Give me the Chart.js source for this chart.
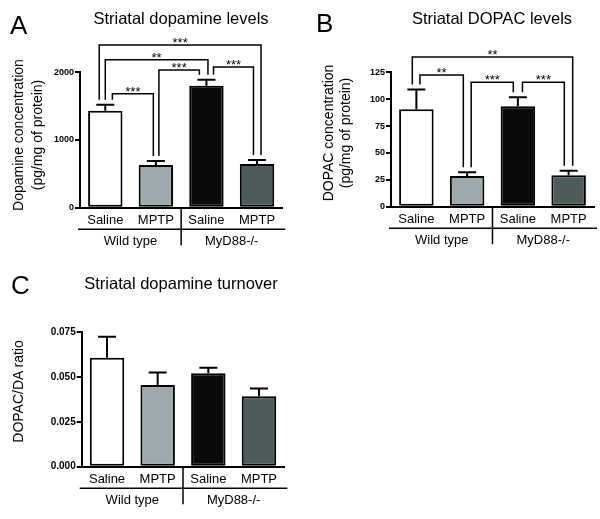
<!DOCTYPE html>
<html>
<head>
<meta charset="utf-8">
<script src="https://cdn.jsdelivr.net/npm/chart.js@4.4.1/dist/chart.umd.min.js"></script>
<style>
  body { margin: 0; background: #fff; }
  #wrap { position: relative; width: 600px; height: 519px; overflow: hidden;
          font-family: "Liberation Sans", Arial, sans-serif; color: #000; }
  canvas { position: absolute; }
  .letter { position: absolute; font-size: 26px; line-height: 26px; }
  .title { position: absolute; width: 300px; text-align: center; font-size: 16.5px; line-height: 16.5px; white-space: nowrap; }
  .ytitle { position: absolute; width: 200px; text-align: center; font-size: 14px; transform: rotate(-90deg); white-space: nowrap; }
</style>
</head>
<body>
<div id="wrap">
  <canvas id="chartA" width="300" height="260" style="left:0;top:0"></canvas>
  <canvas id="chartB" width="300" height="260" style="left:300px;top:0"></canvas>
  <canvas id="chartC" width="300" height="259" style="left:0;top:260px"></canvas>

  <div class="letter" style="left:10px;top:11.5px">A</div>
  <div class="letter" style="left:316px;top:10px">B</div>
  <div class="letter" style="left:11px;top:272px">C</div>

  <div class="title" style="left:31px;top:10px">Striatal dopamine levels</div>
  <div class="title" style="left:342px;top:10px">Striatal DOPAC levels</div>
  <div class="title" style="left:31px;top:275px">Striatal dopamine turnover</div>

  <div class="ytitle" style="left:-72.5px;top:116px;height:38px;line-height:19px">Dopamine concentration<br>(pg/mg of protein)</div>
  <div class="ytitle" style="left:236.5px;top:116px;height:34px;line-height:17px">DOPAC concentration<br>(pg/mg of protein)</div>
  <div class="ytitle" style="left:-82.5px;top:382.5px;height:17px;line-height:17px">DOPAC/DA ratio</div>
</div>
<script>
const FONT = '"Liberation Sans", Arial, sans-serif';
Chart.defaults.font.family = FONT;
Chart.defaults.color = '#000';

// categories and groups
const categories = ['Saline', 'MPTP', 'Saline', 'MPTP'];
const groups = ['Wild type', 'MyD88-/-'];
const barColors = ['#ffffff', '#9ea9ae', '#0b0b0b', '#4e5b5b'];

// A: striatal dopamine (pg/mg protein), mean and SEM
const dopamineMean = [1433, 630, 1802, 645];
const dopamineSem = [88, 59, 89, 60];
const dopamineTicks = [0, 1000, 2000];

// B: striatal DOPAC (pg/mg protein)
const dopacMean = [90.6, 28.5, 93.4, 29.2];
const dopacSem = [18.4, 3.5, 8.3, 4.3];
const dopacTicks = [0, 25, 50, 75, 100, 125];

// C: DOPAC/DA ratio
const turnoverMean = [0.0608, 0.0456, 0.0521, 0.0393];
const turnoverSem = [0.0117, 0.0069, 0.0031, 0.0044];
const turnoverTicks = [0, 0.025, 0.05, 0.075];

// significance comparisons [from, to, label]
const dopamineStats = [[0, 1, '***'], [1, 2, '***'], [2, 3, '***'], [0, 2, '**'], [0, 3, '***']];
const dopacStats = [[0, 1, '**'], [1, 2, '***'], [2, 3, '***'], [0, 3, '**']];

// bracket placement: height in axis units, leg shift in category widths
const dopamineBrackets = [
  { level: 1684, dx: [0.14, -0.05] },
  { level: 2034, dx: [0.06, -0.14] },
  { level: 2078, dx: [0.14, -0.07] },
  { level: 2186, dx: [0.0, 0.03] },
  { level: 2403, dx: [-0.12, 0.08] }
];
const dopacBrackets = [
  { level: 122.5, dx: [0.07, -0.075] },
  { level: 115.7, dx: [0.08, -0.09] },
  { level: 115.7, dx: [0.09, -0.085] },
  { level: 139.2, dx: [-0.08, 0.08] }
];

// upward-only error bars with caps
const errorBars = {
  id: 'errorBars',
  afterDatasetsDraw(chart, args, opts) {
    const { ctx } = chart;
    const y = chart.scales.y;
    const mean = chart.data.datasets[0].data;
    ctx.save();
    ctx.strokeStyle = '#000';
    ctx.lineWidth = 2;
    chart.getDatasetMeta(0).data.forEach((bar, i) => {
      const top = y.getPixelForValue(mean[i] + opts.sem[i]);
      ctx.beginPath();
      ctx.moveTo(bar.x, bar.y);
      ctx.lineTo(bar.x, top);
      ctx.moveTo(bar.x - 9, top);
      ctx.lineTo(bar.x + 9, top);
      ctx.stroke();
    });
    ctx.restore();
  }
};

// significance brackets
const brackets = {
  id: 'brackets',
  afterDraw(chart, args, opts) {
    if (!opts.stats) return;
    const { ctx } = chart;
    const x = chart.scales.x, y = chart.scales.y;
    const mean = chart.data.datasets[0].data;
    const step = x.getPixelForValue(1) - x.getPixelForValue(0);
    const legEnd = i => y.getPixelForValue(mean[i] + opts.sem[i]) - 5;
    ctx.save();
    ctx.strokeStyle = '#000';
    ctx.fillStyle = '#000';
    ctx.lineWidth = 1.5;
    ctx.font = '13px ' + FONT;
    ctx.textAlign = 'center';
    ctx.textBaseline = 'alphabetic';
    opts.stats.forEach(([a, b, label], k) => {
      const lay = opts.layout[k];
      const xa = x.getPixelForValue(a) + lay.dx[0] * step;
      const xb = x.getPixelForValue(b) + lay.dx[1] * step;
      const yl = y.getPixelForValue(lay.level);
      ctx.beginPath();
      ctx.moveTo(xa, legEnd(a));
      ctx.lineTo(xa, yl);
      ctx.lineTo(xb, yl);
      ctx.lineTo(xb, legEnd(b));
      ctx.stroke();
      ctx.fillText(label, (xa + xb) / 2, yl + 2.2);
    });
    ctx.restore();
  }
};

// second row of x labels: Wild type | MyD88-/-
const groupAxis = {
  id: 'groupAxis',
  afterDraw(chart) {
    const { ctx, chartArea } = chart;
    const x = chart.scales.x;
    const b = chartArea.bottom;
    const px = i => x.getPixelForValue(i);
    const sep = (px(1) + px(2)) / 2;
    ctx.save();
    ctx.strokeStyle = '#000';
    ctx.lineWidth = 1.5;
    ctx.beginPath();
    ctx.moveTo(chartArea.left - 2, b + 21.6);
    ctx.lineTo(chartArea.right + 3, b + 21.6);
    ctx.moveTo(sep, b + 1);
    ctx.lineTo(sep, b + 37.5);
    ctx.stroke();
    ctx.fillStyle = '#000';
    ctx.font = '13px ' + FONT;
    ctx.textAlign = 'center';
    ctx.textBaseline = 'middle';
    groups.forEach((g, k) => {
      ctx.fillText(g, (px(2 * k) + px(2 * k + 1)) / 2, b + 33.3);
    });
    ctx.restore();
  }
};

function makePanel(id, mean, sem, ticks, fmt, box) {
  const canvas = document.getElementById(id);
  return new Chart(canvas, {
    type: 'bar',
    data: {
      labels: categories,
      datasets: [{
        data: mean,
        backgroundColor: barColors,
        borderColor: '#000',
        borderWidth: 2,
        borderSkipped: false,
        barPercentage: 0.68,
        categoryPercentage: 1
      }]
    },
    options: {
      responsive: false,
      animation: false,
      layout: { padding: { left: 0, top: box.top, right: canvas.width - box.right, bottom: 0 } },
      plugins: {
        legend: { display: false },
        tooltip: { enabled: false },
        errorBars: { sem: sem },
        brackets: { stats: box.stats, layout: box.layout, sem: sem }
      },
      scales: {
        x: {
          grid: { display: false, drawTicks: false },
          border: { display: true, color: '#000', width: 2 },
          ticks: { color: '#000', font: { size: 13 }, padding: 5 },
          afterFit: s => { s.height = canvas.height - box.bottom; }
        },
        y: {
          min: 0,
          max: ticks[ticks.length - 1],
          afterBuildTicks: s => { s.ticks = ticks.map(v => ({ value: v })); },
          grid: { drawOnChartArea: false, drawTicks: true, tickLength: 5, color: '#000', lineWidth: 2 },
          border: { display: true, color: '#000', width: 2 },
          ticks: { color: '#000', font: { size: box.tickSize, weight: 'bold' }, padding: 1, callback: fmt },
          afterFit: s => { s.width = box.left; }
        }
      }
    },
    plugins: [errorBars, brackets, groupAxis]
  });
}

makePanel('chartA', dopamineMean, dopamineSem, dopamineTicks, v => String(v),
  { left: 80, right: 282.3, top: 72.3, bottom: 207.7, tickSize: 9, stats: dopamineStats, layout: dopamineBrackets });
makePanel('chartB', dopacMean, dopacSem, dopacTicks, v => String(v),
  { left: 91, right: 294, top: 72.3, bottom: 206.7, tickSize: 9, stats: dopacStats, layout: dopacBrackets });
makePanel('chartC', turnoverMean, turnoverSem, turnoverTicks, v => v.toFixed(3),
  { left: 81.7, right: 284.3, top: 72.3, bottom: 206.7, tickSize: 10 });
</script>
</body>
</html>
